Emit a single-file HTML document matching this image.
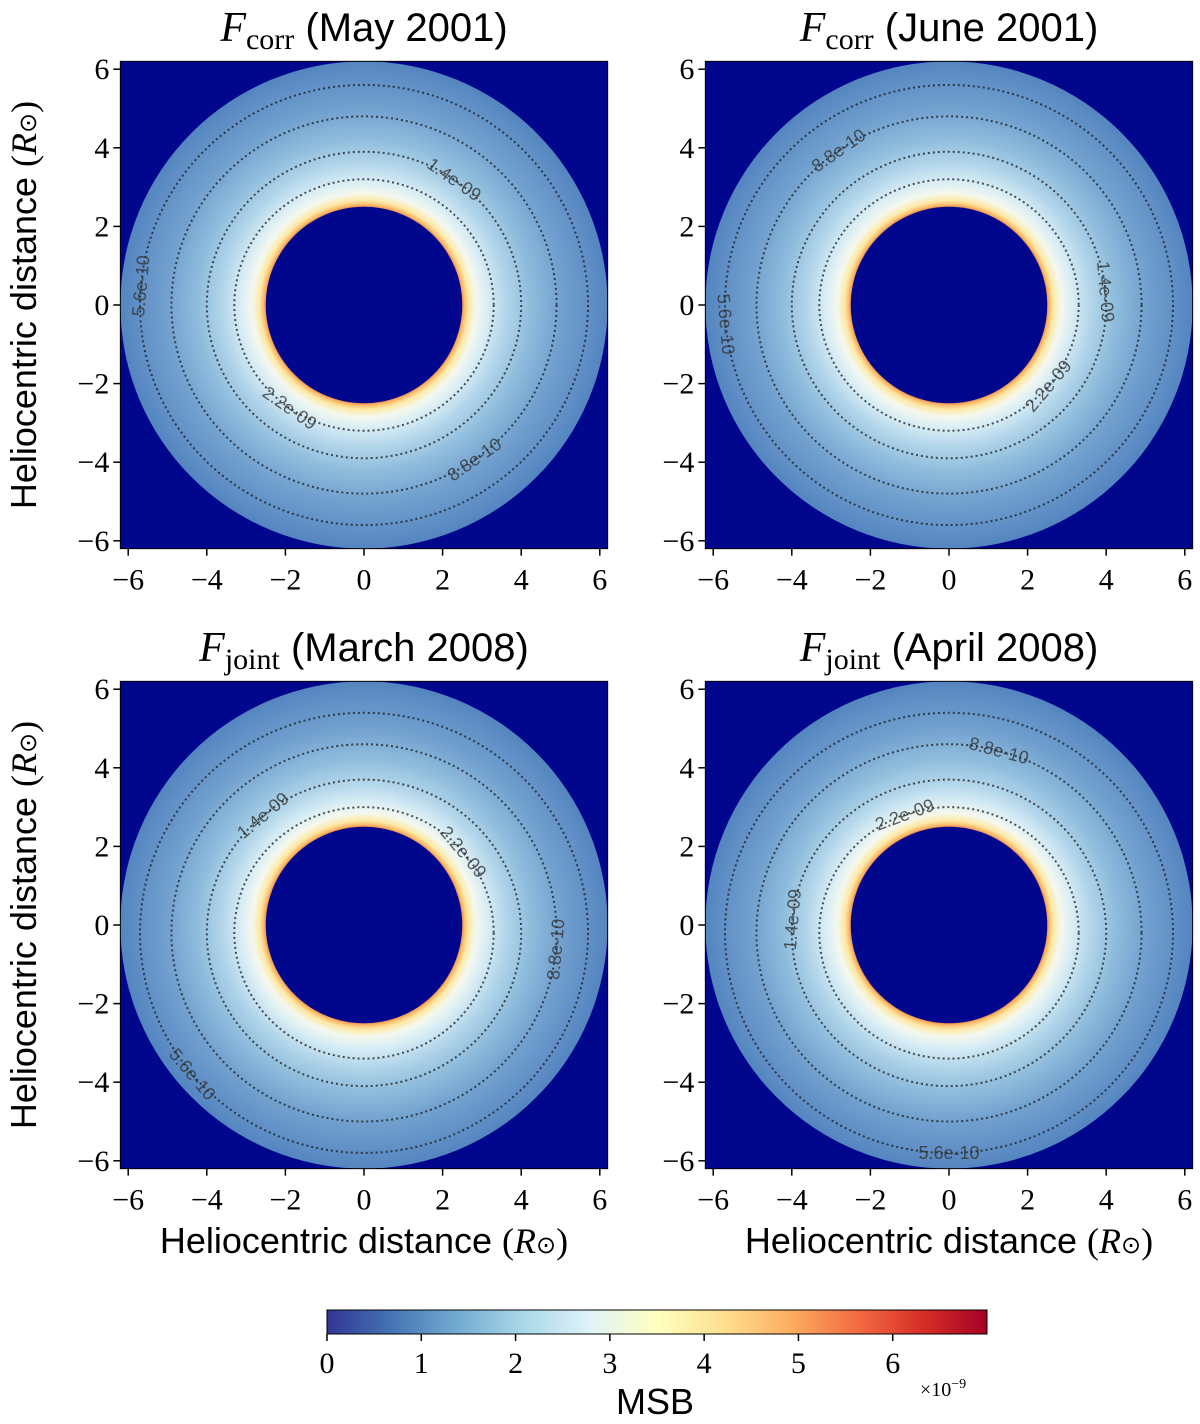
<!DOCTYPE html>
<html><head><meta charset="utf-8"><style>
body{margin:0;background:#fff}
svg text{font-family:"Liberation Serif",serif}
.sans{font-family:"Liberation Sans",sans-serif}
</style></head><body>
<svg id="fig" width="1200" height="1419" viewBox="0 0 1200 1419" xmlns="http://www.w3.org/2000/svg">
<defs>
<linearGradient id="cbar" x1="0" x2="1" y1="0" y2="0">
<stop offset="0" stop-color="#313695"/><stop offset="0.1" stop-color="#4575b4"/>
<stop offset="0.2" stop-color="#74add1"/><stop offset="0.3" stop-color="#abd9e9"/>
<stop offset="0.4" stop-color="#e0f3f8"/><stop offset="0.5" stop-color="#ffffbf"/>
<stop offset="0.6" stop-color="#fee090"/><stop offset="0.7" stop-color="#fdae61"/>
<stop offset="0.8" stop-color="#f46d43"/><stop offset="0.9" stop-color="#d73027"/>
<stop offset="1" stop-color="#a50026"/>
</linearGradient>
</defs>
<g id="panels"></g>
<g id="colorbar"></g>
</svg>
<script>
const panelTitles=[["corr","(May 2001)"],["corr","(June 2001)"],["joint","(March 2008)"],["joint","(April 2008)"]];
const panelCenters=[[364,305],[949,305],[364,925],[949,925]];
const ticks=[-6,-4,-2,0,2,4,6];
const contourLevels=["2.2e-09","1.4e-09","8.8e-10","5.6e-10"];
const contourRadii=[3.3,4.0,4.9,5.7];
// [contour index, angle deg] label placements per panel
const labelSpots=[[[0,-125],[1,55],[2,-55],[3,175]],[[2,125],[1,5],[0,-40],[3,-175]],[[1,130],[0,40],[2,-5],[3,-140]],[[2,75],[0,110],[1,175],[3,-90]]];
const innerRadius=2.5, outerRadius=6.2, axisExtent=6.2;
const cbTicks=[0,1,2,3,4,5,6];
const cbMax=7;
const scale=39.3;
const NS="http://www.w3.org/2000/svg";
function mk(tag,attrs,parent,txt){const e=document.createElementNS(NS,tag);for(const k in attrs)e.setAttribute(k,attrs[k]);if(txt!==undefined)e.textContent=txt;parent.appendChild(e);return e;}
const panels=document.getElementById('panels');
const defs=document.querySelector('defs');
panelCenters.forEach((c,i)=>{
  const [cx,cy]=c;
  const X=v=>cx+v*scale, Y=v=>cy-v*scale;
  const g=mk('g',{},panels);
  
  
  const gid='rg'+i;
  const rg=mk('radialGradient',{id:gid,cx:cx,cy:cy,r:outerRadius*scale,gradientUnits:'userSpaceOnUse'},defs);
  const stops=[[2.5,'#f39150'],[2.56,'#f9c070'],[2.66,'#fde9a6'],[2.85,'#f4f8ee'],[3.15,'#d8edf5'],[3.6,'#b3d6ea'],[4.2,'#91bedd'],[5.0,'#72a1cf'],[6.2,'#5585c0']];
  stops.forEach(s=>mk('stop',{offset:s[0]/outerRadius,'stop-color':s[1]},rg));
  const bg=mk('rect',{x:X(-axisExtent),y:Y(axisExtent),width:2*axisExtent*scale,height:2*axisExtent*scale,fill:'#00078c'},g);
  
  
  const ring=mk('circle',{cx:cx,cy:cy,r:outerRadius*scale,fill:'url(#'+gid+')'},g);
  
  
  const occ=mk('circle',{cx:cx,cy:cy,r:innerRadius*scale,fill:'#00078c'},g);
  
  
  const ecy=cy+(i>1?0.2*scale:0);
  contourRadii.forEach((r,k)=>{
    const cc=mk('ellipse',{cx:cx,cy:ecy,rx:r*scale,ry:(r-0.1)*scale,fill:'none',stroke:'#1a1a1a','stroke-width':2,'stroke-dasharray':'2 3','opacity':0.75},g);
    
    
  });
  labelSpots[i].forEach(s=>{
    const k=s[0],a=s[1]*Math.PI/180,r=contourRadii[k];
    const lx=cx+r*scale*Math.cos(a), ly=ecy-(r-0.1)*scale*Math.sin(a);
    let rot=-(s[1]-90); if(rot>90)rot-=180; if(rot<-90)rot+=180;
    const t=mk('text',{x:lx,y:ly+6,'text-anchor':'middle','font-size':18,fill:'#333','opacity':0.8,class:'sans',transform:'rotate('+rot+' '+lx+' '+ly+')'},g,contourLevels[k]);
    
    
  });
  mk('rect',{x:X(-axisExtent),y:Y(axisExtent),width:2*axisExtent*scale,height:2*axisExtent*scale,fill:'none',stroke:'#000','stroke-width':1},g);
  ticks.forEach(t=>{
    mk('line',{x1:X(t),x2:X(t),y1:Y(-axisExtent),y2:Y(-axisExtent)+7,stroke:'#000','stroke-width':1.5},g);
    const xl=mk('text',{x:X(t),y:Y(-axisExtent)+41,'text-anchor':'middle','font-size':30},g,(t<0?'\u2212':'')+Math.abs(t));
    
    
    mk('line',{x1:X(-axisExtent),x2:X(-axisExtent)-7,y1:Y(t),y2:Y(t),stroke:'#000','stroke-width':1.5},g);
    const yl=mk('text',{x:X(-axisExtent)-11,y:Y(t)+10,'text-anchor':'end','font-size':30},g,(t<0?'\u2212':'')+Math.abs(t));
    
    
  });
  const tt=mk('text',{x:cx,y:cy-264,'text-anchor':'middle','font-size':42},g);
  
  
  mk('tspan',{'font-style':'italic'},tt,'F');
  mk('tspan',{'font-size':30,dy:8},tt,panelTitles[i][0]);
  mk('tspan',{dy:-8,class:'sans','font-size':40},tt,' '+panelTitles[i][1]);
  if(i%2===0){
    const yt=mk('text',{transform:'translate(36,'+cy+') rotate(-90)','text-anchor':'middle','font-size':36},g);
    
    
    mk('tspan',{class:'sans'},yt,'Heliocentric distance ');
    mk('tspan',{},yt,'(');mk('tspan',{'font-style':'italic'},yt,'R');mk('tspan',{'font-size':24},yt,'\u2299');mk('tspan',{},yt,')');
  }
  if(i>1){
    const xt=mk('text',{x:cx,y:1253,'text-anchor':'middle','font-size':36},g);
    
    
    mk('tspan',{class:'sans'},xt,'Heliocentric distance ');
    mk('tspan',{},xt,'(');mk('tspan',{'font-style':'italic'},xt,'R');mk('tspan',{'font-size':24},xt,'\u2299');mk('tspan',{},xt,')');
  }
});
const cb=document.getElementById('colorbar');
const cbX0=327,cbW=660,cbY=1310,cbH=24;
const CX=v=>cbX0+v/cbMax*cbW;
mk('rect',{x:cbX0,y:cbY,width:cbW,height:cbH,fill:'url(#cbar)',stroke:'#000','stroke-width':1},cb);
cbTicks.forEach(t=>{
  mk('line',{x1:CX(t),x2:CX(t),y1:cbY+cbH,y2:cbY+cbH+7,stroke:'#000','stroke-width':1.5},cb);
  const l=mk('text',{x:CX(t),y:1373,'text-anchor':'middle','font-size':30},cb,String(t));
  
  
});
const ml=mk('text',{x:655,y:1414,'text-anchor':'middle','font-size':36,class:'sans'},cb,'MSB');


const ex=mk('text',{x:920,y:1396,'font-size':20},cb);


mk('tspan',{},ex,'\u00d710');mk('tspan',{dy:-8,'font-size':14},ex,'\u22129');
</script>
</body></html>
